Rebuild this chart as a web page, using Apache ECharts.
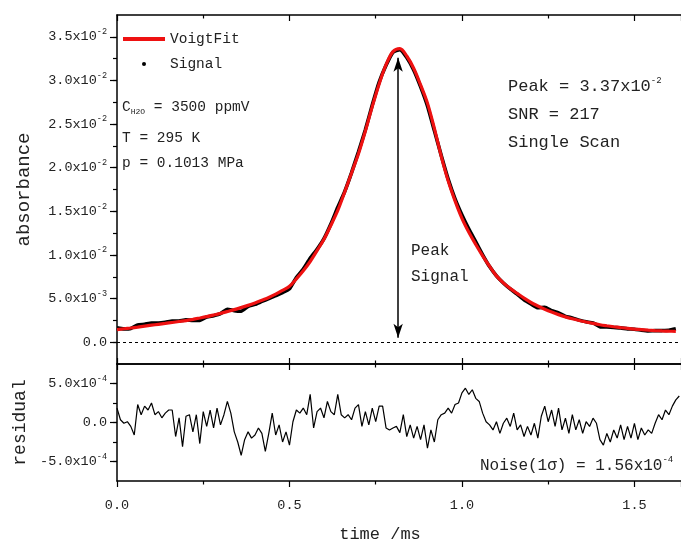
<!DOCTYPE html>
<html>
<head>
<meta charset="utf-8">
<script src="https://cdn.jsdelivr.net/npm/echarts@6/dist/echarts.min.js"></script>
<style>
html,body{margin:0;padding:0;background:#fff;}
#chart{width:681px;height:544px;}
</style>
</head>
<body>
<div id="chart"></div>
<script>
// ---------------- data ----------------
// Voigt fit (absorbance) sampled along time / ms
const fitTime = [0.00,0.02,0.04,0.06,0.08,0.10,0.12,0.14,0.16,0.18,0.20,0.22,0.24,0.26,0.28,0.30,0.32,0.34,0.36,0.38,0.40,0.42,0.44,0.46,0.48,0.50,0.52,0.54,0.56,0.58,0.60,0.62,0.64,0.66,0.68,0.70,0.72,0.74,0.76,0.78,0.80,0.82,0.84,0.86,0.88,0.90,0.92,0.94,0.96,0.98,1.00,1.02,1.04,1.06,1.08,1.10,1.12,1.14,1.16,1.18,1.20,1.22,1.24,1.26,1.28,1.30,1.32,1.34,1.36,1.38,1.40,1.42,1.44,1.46,1.48,1.50,1.52,1.54,1.56,1.58,1.60,1.62];
const fitValue = [0.00145,0.00154,0.00163,0.00173,0.00184,0.00195,0.00205,0.00215,0.00226,0.00237,0.00248,0.00262,0.00277,0.00293,0.00311,0.00330,0.00351,0.00373,0.00397,0.00422,0.00450,0.00481,0.00513,0.00550,0.00594,0.00640,0.00725,0.00818,0.00925,0.01050,0.01180,0.01340,0.01510,0.01720,0.01940,0.02160,0.02420,0.02700,0.02960,0.03180,0.03330,0.03365,0.03280,0.03140,0.02950,0.02740,0.02450,0.02130,0.01850,0.01620,0.01420,0.01260,0.01120,0.00990,0.00870,0.00760,0.00680,0.00615,0.00560,0.00505,0.00455,0.00415,0.00378,0.00345,0.00316,0.00290,0.00268,0.00249,0.00232,0.00215,0.00200,0.00188,0.00177,0.00167,0.00158,0.00150,0.00144,0.00138,0.00133,0.00129,0.00126,0.00124];
// Measured signal (absorbance), same time points as the fit
const signalValue = [0.00164,0.00153,0.00158,0.00196,0.00205,0.00220,0.00219,0.00227,0.00242,0.00243,0.00256,0.00250,0.00250,0.00288,0.00304,0.00327,0.00378,0.00361,0.00355,0.00410,0.00434,0.00467,0.00499,0.00534,0.00569,0.00611,0.00741,0.00837,0.00961,0.01064,0.01186,0.01354,0.01546,0.01726,0.01944,0.02183,0.02434,0.02719,0.02981,0.03173,0.03323,0.03353,0.03262,0.03120,0.02928,0.02707,0.02425,0.02140,0.01869,0.01643,0.01458,0.01296,0.01151,0.01002,0.00867,0.00761,0.00679,0.00610,0.00551,0.00487,0.00439,0.00395,0.00399,0.00361,0.00335,0.00296,0.00278,0.00253,0.00233,0.00221,0.00178,0.00174,0.00168,0.00164,0.00153,0.00149,0.00137,0.00129,0.00132,0.00133,0.00136,0.00153];
// Residual (signal - fit), sampled every 0.01 ms from 0.00 to 1.63 ms
const residualStart = 0.0;
const residualStep = 0.01;
const residualValue = [
 1.85e-4,0.35e-4,-0.1e-4,0.1e-4,-0.5e-4,-1.6e-4,2.3e-4,1.0e-4,2.1e-4,1.6e-4,
 2.5e-4,1.0e-4,1.4e-4,0.6e-4,1.2e-4,1.6e-4,1.6e-4,-1.8e-4,0.6e-4,-3.1e-4,
 0.8e-4,1.0e-4,-1.2e-4,1.0e-4,-2.7e-4,1.4e-4,-0.5e-4,1.6e-4,-0.7e-4,1.85e-4,
 -0.3e-4,1.0e-4,2.7e-4,1.2e-4,-1.2e-4,-2.5e-4,-4.2e-4,-2.2e-4,-1.2e-4,-2.0e-4,
 -1.6e-4,-0.7e-4,-1.4e-4,-3.7e-4,-1.4e-4,1.2e-4,-1.6e-4,-0.3e-4,-2.5e-4,-1.2e-4,
 -2.9e-4,0.1e-4,1.6e-4,1.2e-4,1.85e-4,1.0e-4,3.6e-4,-0.7e-4,1.4e-4,1.85e-4,
 0.6e-4,2.7e-4,1.4e-4,1.0e-4,3.6e-4,1.0e-4,0.6e-4,1.0e-4,0.35e-4,1.85e-4,
 2.3e-4,-0.5e-4,1.4e-4,-0.3e-4,1.85e-4,0.1e-4,2.1e-4,2.1e-4,-0.7e-4,-0.95e-4,
 -0.7e-4,-0.5e-4,-1.3e-4,1.0e-4,-1.8e-4,-0.3e-4,-2.0e-4,-0.5e-4,-2.2e-4,-0.3e-4,
 -3.3e-4,-0.95e-4,-2.5e-4,0.35e-4,1.0e-4,1.2e-4,1.85e-4,1.2e-4,2.3e-4,2.5e-4,
 3.8e-4,4.4e-4,3.6e-4,4.2e-4,3.1e-4,2.7e-4,1.2e-4,0.1e-4,-0.3e-4,-0.95e-4,
 0.1e-4,-1.4e-4,-0.1e-4,0.55e-4,-0.5e-4,1.2e-4,-0.95e-4,-0.3e-4,-1.8e-4,-0.5e-4,
 -1.6e-4,-0.1e-4,-2.0e-4,0.8e-4,2.1e-4,0.1e-4,1.6e-4,-0.5e-4,1.85e-4,-0.95e-4,
 0.55e-4,-1.4e-4,1.0e-4,-0.95e-4,0.35e-4,-1.4e-4,0.1e-4,-0.5e-4,0.55e-4,-0.1e-4,
 -2.2e-4,-2.9e-4,-1.4e-4,-2.5e-4,-0.95e-4,-2.0e-4,-0.3e-4,-2.2e-4,-0.5e-4,-2.0e-4,
 -0.1e-4,-2.2e-4,-0.7e-4,-1.6e-4,-0.95e-4,-1.4e-4,-0.1e-4,1.0e-4,0.35e-4,1.6e-4,
 1.0e-4,2.1e-4,2.9e-4,3.4e-4
];
// Peak arrow ends and zero line
const peakTime = 0.815;
const arrowBottom = 0.0005;
const arrowTop = 0.0326;
// axis ranges / tick steps
const xRange = [0, 1.635];
const absRange = [-0.0025, 0.0375];
const absMajor = 0.005;
const absMinor = 0.0025;
const absMajorTicks = [0, 0.005, 0.01, 0.015, 0.02, 0.025, 0.03, 0.035];
const resRange = [-7.5e-4, 7.5e-4];
const resMajor = 5e-4;
const resMinor = 2.5e-4;
const resMajorTicks = [-5e-4, 0, 5e-4];
// annotation texts
const legendNames = ['VoigtFit', 'Signal'];
const annoLeft = ['{a|C}{sub|H2O}{a| = 3500 ppmV}', 'T = 295 K', 'p = 0.1013 MPa'];
const annoRight = ['{a|Peak = 3.37x10}{sup|-2}', 'SNR = 217', 'Single Scan'];
const arrowLabel = ['Peak', 'Signal'];
const noiseLabel = '{a|Noise(1σ) = 1.56x10}{sup|-4}';

// ---------------- chart ----------------
const FONT = "'Liberation Mono', 'DejaVu Sans Mono', monospace";
const TXT = '#222';
const chart = echarts.init(document.getElementById('chart'), null, {renderer: 'canvas'});

const fitData = fitTime.map((t, i) => [t, fitValue[i]]);
const signalData = fitTime.map((t, i) => [t, signalValue[i]]);
const residualData = residualValue.map((v, i) => [+(residualStart + i * residualStep).toFixed(3), v]);

function isMultiple(v, step) {
  const r = v / step;
  return Math.abs(r - Math.round(r)) < 1e-6;
}
function sciLabel(v) {
  if (Math.abs(v) < 1e-12) return '{m|0.0}';
  const e = Math.floor(Math.log10(Math.abs(v)) + 1e-9);
  const m = (v / Math.pow(10, e)).toFixed(1);
  return '{m|' + m + 'x10}{s|' + e + '}';
}
const labelRich = {
  m: {fontFamily: FONT, fontSize: 13.5, color: TXT},
  s: {fontFamily: FONT, fontSize: 8.5, color: TXT, padding: [0, 0, 10, 0]}
};

function yAxes(gridIndex, range, minor, major, majorTicks, name, nameGap, nameSize) {
  return [
    {
      type: 'value', gridIndex, min: range[0], max: range[1], interval: minor,
      position: 'left',
      name, nameLocation: 'middle', nameGap,
      nameTextStyle: {fontFamily: FONT, fontSize: nameSize, color: TXT},
      axisLine: {show: true, onZero: false, lineStyle: {color: '#000', width: 1.5}},
      axisTick: {show: true, inside: false, length: 4, lineStyle: {color: '#000', width: 1.2}},
      axisLabel: {
        show: true, margin: 10, showMinLabel: false, showMaxLabel: false,
        formatter: v => isMultiple(v, major) ? sciLabel(v) : '',
        rich: labelRich
      },
      splitLine: {show: false}
    },
    {
      type: 'value', gridIndex, min: range[0], max: range[1], interval: minor,
      position: 'left',
      axisLine: {show: false, onZero: false},
      axisTick: {show: true, inside: false, length: 7, customValues: majorTicks, lineStyle: {color: '#000', width: 1.2}},
      axisLabel: {show: false},
      splitLine: {show: false}
    }
  ];
}

const absY = yAxes(0, absRange, absMinor, absMajor, absMajorTicks, 'absorbance', 84, 19);
const resY = yAxes(1, resRange, resMinor, resMajor, resMajorTicks, 'residual', 84, 18);

function xAxis(gridIndex, position, opts) {
  return Object.assign({
    type: 'value', gridIndex, position, min: xRange[0], max: xRange[1], interval: 0.5,
    axisLine: {show: true, onZero: false, lineStyle: {color: '#000', width: 1.5}},
    axisTick: {show: true, inside: true, length: 6, lineStyle: {color: '#000', width: 1.2}},
    minorTick: {show: true, splitNumber: 2, length: 3.5, lineStyle: {color: '#000', width: 1.2}},
    axisLabel: {show: false},
    splitLine: {show: false}, minorSplitLine: {show: false}
  }, opts || {});
}

const option = {
  animation: false,
  backgroundColor: '#fff',
  grid: [
    {left: 117, right: 0, top: 15, height: 349, outerBoundsMode: 'none', containLabel: false},
    {left: 117, right: 0, top: 364, height: 117, outerBoundsMode: 'none', containLabel: false}
  ],
  legend: {
    left: 118, top: 25, orient: 'vertical',
    itemWidth: 42, itemHeight: 4, itemGap: 7,
    data: [{name: legendNames[0], icon: 'rect'}, {name: legendNames[1], icon: 'circle'}],
    textStyle: {fontFamily: FONT, fontSize: 14.5, color: TXT, lineHeight: 18},
    selectedMode: false
  },
  xAxis: [
    xAxis(0, 'bottom'),
    xAxis(0, 'top'),
    xAxis(1, 'top'),
    xAxis(1, 'bottom', {
      axisTick: {show: true, inside: false, length: 6, lineStyle: {color: '#000', width: 1.2}},
      minorTick: {show: true, splitNumber: 2, length: 3.5, lineStyle: {color: '#000', width: 1.2}},
      axisLabel: {show: true, margin: 17, fontFamily: FONT, fontSize: 13.5, color: TXT,
        showMaxLabel: false, formatter: v => v.toFixed(1)},
      name: 'time /ms', nameLocation: 'middle', nameGap: 45,
      nameTextStyle: {fontFamily: FONT, fontSize: 17, color: TXT, padding: [0, 38, 0, 0]}
    })
  ],
  yAxis: absY.concat(resY),
  series: [
    {
      name: legendNames[1], type: 'line', xAxisIndex: 0, yAxisIndex: 0,
      data: signalData, showSymbol: false, symbol: 'circle', smooth: 0.15,
      lineStyle: {color: '#000', width: 3.6}, itemStyle: {color: '#000'}, z: 2,
      markLine: {
        silent: true, animation: false,
        symbol: ['arrow', 'arrow'], symbolSize: [7, 14],
        label: {show: false},
        lineStyle: {color: '#000', width: 1.5, type: 'solid'},
        emphasis: {disabled: true},
        data: [[{coord: [peakTime, arrowBottom]}, {coord: [peakTime, arrowTop]}]]
      }
    },
    {
      name: legendNames[0], type: 'line', xAxisIndex: 0, yAxisIndex: 0,
      data: fitData, showSymbol: false, smooth: 0.35,
      lineStyle: {color: '#ee1111', width: 3.2}, itemStyle: {color: '#ee1111'}, z: 3,
      markLine: {
        silent: true, animation: false, symbol: ['none', 'none'],
        label: {show: false},
        lineStyle: {color: '#000', width: 1, type: [3, 3]},
        emphasis: {disabled: true},
        data: [{yAxis: 0}]
      }
    },
    {
      name: 'residual', type: 'line', xAxisIndex: 3, yAxisIndex: 2,
      data: residualData, showSymbol: false,
      lineStyle: {color: '#000', width: 1.2}, itemStyle: {color: '#000'}, z: 2
    }
  ],
  graphic: [
    {type: 'text', left: 122, top: 100, style: {text: annoLeft[0], fill: TXT,
      rich: {a: {fontFamily: FONT, fontSize: 14.5, fill: TXT}, sub: {fontFamily: FONT, fontSize: 8, fill: TXT, padding: [8, 0, 0, 0]}}}},
    {type: 'text', left: 122, top: 131, style: {text: annoLeft[1], fill: TXT, font: '14.5px ' + FONT}},
    {type: 'text', left: 122, top: 156, style: {text: annoLeft[2], fill: TXT, font: '14.5px ' + FONT}},
    {type: 'text', left: 508, top: 76, style: {text: annoRight[0], fill: TXT,
      rich: {a: {fontFamily: FONT, fontSize: 17, fill: TXT}, sup: {fontFamily: FONT, fontSize: 9, fill: TXT, padding: [0, 0, 12, 0]}}}},
    {type: 'text', left: 508, top: 106, style: {text: annoRight[1], fill: TXT, font: '17px ' + FONT}},
    {type: 'text', left: 508, top: 134, style: {text: annoRight[2], fill: TXT, font: '17px ' + FONT}},
    {type: 'text', left: 411, top: 243, style: {text: arrowLabel[0], fill: TXT, font: '16px ' + FONT}},
    {type: 'text', left: 411, top: 269, style: {text: arrowLabel[1], fill: TXT, font: '16px ' + FONT}},
    {type: 'text', left: 480, top: 455, style: {text: noiseLabel, fill: TXT,
      rich: {a: {fontFamily: FONT, fontSize: 16, fill: TXT}, sup: {fontFamily: FONT, fontSize: 9, fill: TXT, padding: [0, 0, 12, 0]}}}}
  ]
};
chart.setOption(option);
</script>
</body>
</html>
